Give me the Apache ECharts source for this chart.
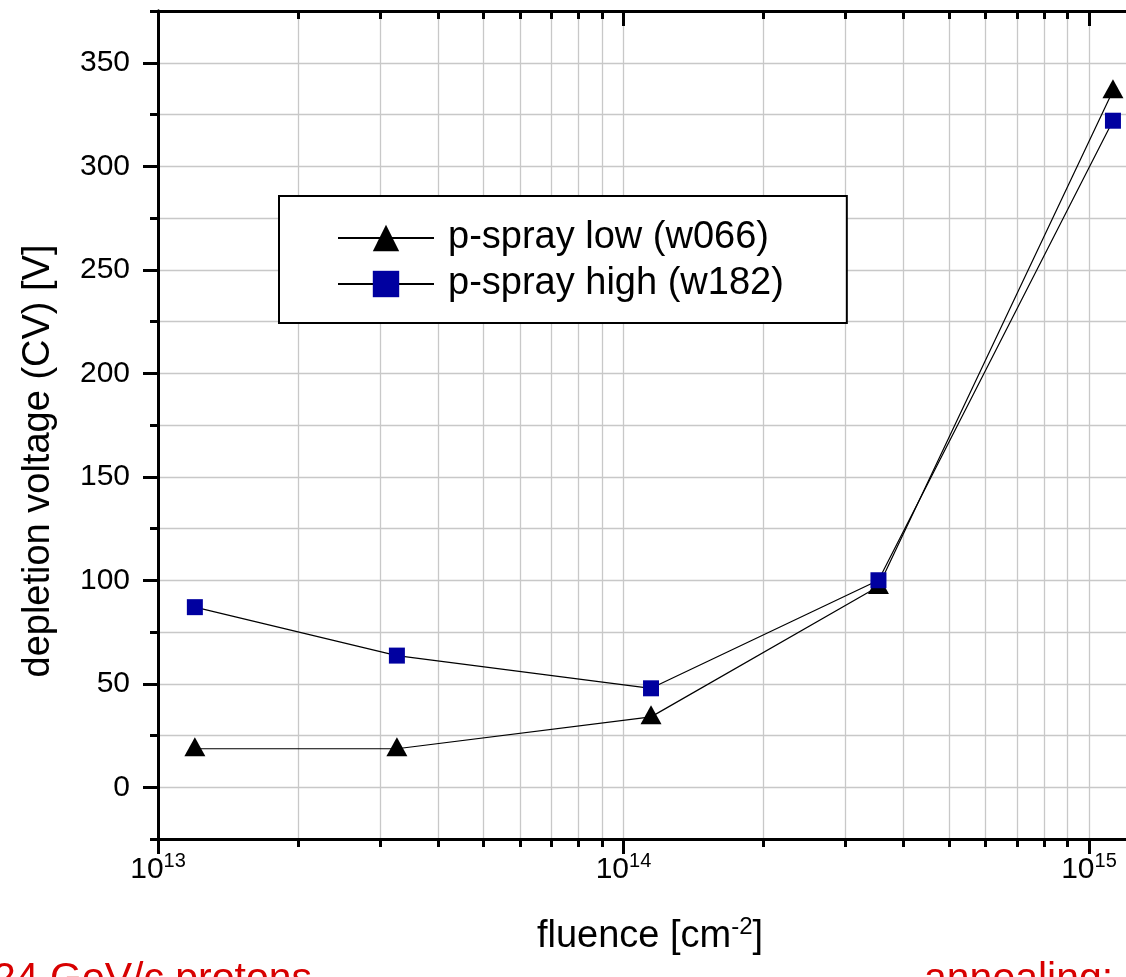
<!DOCTYPE html>
<html>
<head>
<meta charset="utf-8">
<script src="https://cdn.jsdelivr.net/npm/echarts@6/dist/echarts.min.js"></script>
<style>
  html, body { margin: 0; padding: 0; background: #fff; }
  #chart { width: 1126px; height: 977px; }
</style>
</head>
<body>
<div id="chart"></div>
<script>
// Proton fluence of the irradiated samples [cm^-2]
const fluence = [1.2e13, 3.26e13, 1.146e14, 3.53e14, 1.126e15];
// Full depletion voltage from CV measurements [V]
const pSprayLow = [18.6, 18.6, 34, 97, 336.5];
const pSprayHigh = [87, 63.6, 47.8, 100, 322];
const seriesNames = ['p-spray low (w066)', 'p-spray high (w182)'];

// Axis ranges and tick positions
const xDecades = [13, 14, 15];
const xMinorMantissas = [2, 3, 4, 5, 6, 7, 8, 9];
const xMin = 1e13, xMax = 1.3e15;
const yMin = -25, yMax = 375, yStep = 25;
const yMajorTicks = [0, 50, 100, 150, 200, 250, 300, 350];

const FONT = '"Liberation Sans", Arial, sans-serif';
const lx = Math.log10;

// The fluence axis is a linear axis over log10(fluence)
const xLo = lx(xMin), xHi = lx(xMax);
const xGridValues = [];
xDecades.forEach(d => {
  xGridValues.push(d);
  xMinorMantissas.forEach(m => {
    const v = lx(m) + d;
    if (v <= xHi) xGridValues.push(v);
  });
});

const toPoints = vals => vals.map((v, i) => [lx(fluence[i]), v]);

const axisLine = { show: true, onZero: false, lineStyle: { color: '#000', width: 3 } };
const GRID_COLOR = '#c8c8c8';

function xAxisDef(position, major, inside) {
  return {
    type: 'value', position, min: xLo, max: xHi,
    axisLine,
    axisTick: {
      show: true, inside, length: major ? 15 : 8,
      lineStyle: { color: '#000', width: 3 },
      customValues: major ? xDecades : xGridValues
    },
    axisLabel: (position === 'bottom' && major) ? {
      show: true, customValues: xDecades, margin: 12,
      formatter: v => '{b|10}{s|' + Math.round(v) + '}',
      rich: {
        b: { fontSize: 30, fontFamily: FONT, color: '#000', lineHeight: 34, verticalAlign: 'bottom' },
        s: { fontSize: 20, fontFamily: FONT, color: '#000', lineHeight: 20, verticalAlign: 'top' }
      }
    } : { show: false },
    splitLine: (position === 'bottom' && !major) ? {
      show: true, lineStyle: { color: GRID_COLOR, width: 1.3 }
    } : { show: false }
  };
}

function yAxisDef(position, major, inside) {
  return {
    type: 'value', position, min: yMin, max: yMax, interval: yStep,
    axisLine,
    axisTick: Object.assign({
      show: true, inside, length: major ? 15 : 8,
      lineStyle: { color: '#000', width: 3 }
    }, major ? { customValues: yMajorTicks } : {}),
    axisLabel: (position === 'left' && !major) ? {
      show: true, customValues: yMajorTicks, margin: 28,
      fontSize: 30, fontFamily: FONT, color: '#000'
    } : { show: false },
    splitLine: (position === 'left' && !major) ? {
      show: true, lineStyle: { color: GRID_COLOR, width: 1.3 }
    } : { show: false }
  };
}

const xAxes = [
  xAxisDef('bottom', false, false),
  xAxisDef('bottom', true, false),
  xAxisDef('top', false, true),
  xAxisDef('top', true, true)
];
xAxes[0].name = '{t|fluence [cm}{s|-2}{t|]}';
xAxes[0].nameLocation = 'middle';
xAxes[0].nameGap = 76;
xAxes[0].nameTextStyle = {
  rich: {
    t: { fontSize: 38, fontFamily: FONT, color: '#000', lineHeight: 44 },
    s: { fontSize: 24, fontFamily: FONT, color: '#000', verticalAlign: 'top', lineHeight: 44 }
  }
};

const yAxes = [
  yAxisDef('left', false, false),
  yAxisDef('left', true, false),
  yAxisDef('right', false, true),
  yAxisDef('right', true, true)
];
yAxes[0].name = 'depletion voltage (CV) [V]';
yAxes[0].nameLocation = 'middle';
yAxes[0].nameRotate = 90;
yAxes[0].nameGap = 100;
yAxes[0].nameTextStyle = { fontSize: 38, fontFamily: FONT, color: '#000', padding: [0, 72, 0, 0] };

const chart = echarts.init(document.getElementById('chart'), null, { renderer: 'canvas' });
chart.setOption({
  animation: false,
  backgroundColor: '#fff',
  grid: { left: 158, top: 11, width: 984, height: 828, outerBoundsMode: 'none', containLabel: false },
  xAxis: xAxes,
  yAxis: yAxes,
  legend: {
    orient: 'vertical', left: 279, top: 196,
    padding: [23, 63, 20, 58],
    itemWidth: 96, itemHeight: 33, itemGap: 8,
    borderColor: '#000', borderWidth: 2, backgroundColor: '#fff',
    textStyle: { fontSize: 38, fontFamily: FONT, color: '#000', padding: [0, 0, 0, 9] },
    data: seriesNames
  },
  series: [
    {
      name: seriesNames[0], type: 'line', data: toPoints(pSprayLow),
      symbol: 'triangle', symbolSize: [21, 19], symbolOffset: [0, -2],
      showAllSymbol: true,
      itemStyle: { color: '#000' },
      lineStyle: { color: '#000', width: 1.2 },
      z: 3
    },
    {
      name: seriesNames[1], type: 'line', data: toPoints(pSprayHigh),
      symbol: 'rect', symbolSize: 16,
      showAllSymbol: true,
      itemStyle: { color: '#0000a0' },
      lineStyle: { color: '#000', width: 1.2 },
      z: 4
    }
  ],
  graphic: [
    {
      type: 'text', x: -7, y: 980, silent: true,
      style: { text: '24 GeV/c protons', fontSize: 41, fontFamily: FONT, fill: '#d80000', verticalAlign: 'middle' }
    },
    {
      type: 'text', x: 924, y: 980, silent: true,
      style: { text: 'annealing: 80 min at 60°C', fontSize: 41, fontFamily: FONT, fill: '#d80000', verticalAlign: 'middle' }
    }
  ]
});
</script>
</body>
</html>
